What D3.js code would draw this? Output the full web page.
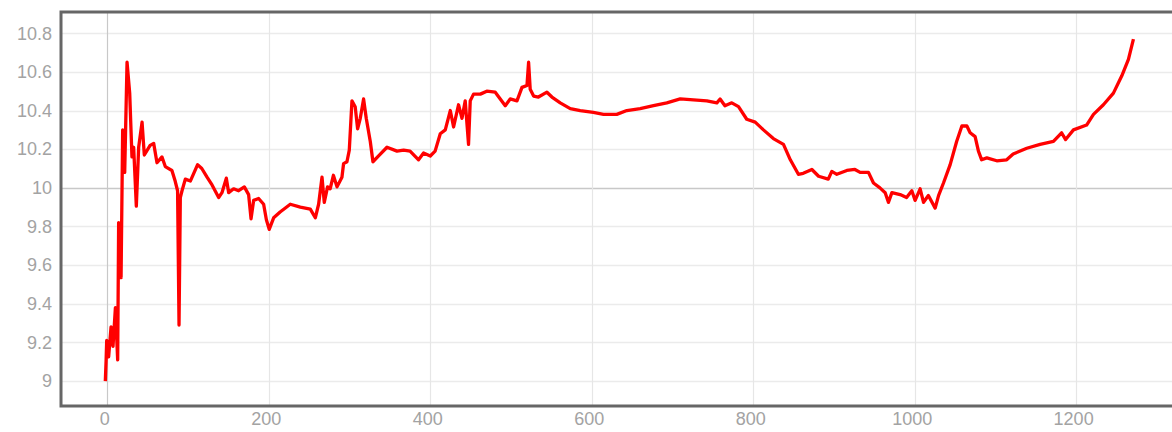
<!DOCTYPE html>
<html>
<head>
<meta charset="utf-8">
<script src="https://cdn.jsdelivr.net/npm/d3@7"></script>
<style>
	body{margin:0;background:#fff;overflow:hidden;}
	svg{display:block;}
	.tick text{font-family:"Liberation Sans",Arial,sans-serif;font-size:18px;fill:#a3a3a3;}
</style>
</head>
<body>
<div id="chart"></div>
<script>
//データ
const xValues = [
	-2.5, -1.5, -0.8, 1.6, 4.6, 7, 10, 12.8, 14, 17, 19, 21.5, 24.4, 27.7, 30.5, 32.6, 35.9, 38.8, 43, 45.8,
	53, 57.4, 61.5, 67.7, 71.8, 80, 84, 87, 88.8, 90.4, 92.5, 96.6, 102.8, 111.8, 117, 123.5, 129.7, 137.9, 142, 147.4,
	150.3, 156.4, 162.6, 169.7, 175, 178, 181.2, 187.4, 193.6, 197, 200.5, 206, 214, 226.6, 239, 251.4, 257.6, 261.7, 265.9, 268.7,
	272.8, 276, 280, 284.5, 290.6, 292.6, 296.8, 299.7, 303, 307, 310, 313.3, 317.4, 320.7, 325.7, 329, 336, 346.4, 358.8, 367,
	375, 385.5, 391.7, 400, 406, 412.4, 418.6, 424.8, 428.9, 435, 439.3, 443.3, 447.4, 449.5, 453.6, 462, 470, 480.5, 486.7, 492.9,
	499, 507.4, 513.6, 519.8, 521.8, 523.8, 528, 534, 544.5, 550.7, 561, 573.4, 585.8, 602, 614.6, 631, 643.5, 660, 676.5, 693,
	709.6, 726, 742.6, 755, 759, 765, 773.5, 781.8, 792, 802.5, 812.7, 825, 837.5, 846, 856, 862, 872.7, 881, 893, 897.4,
	903.6, 916, 926, 932.5, 942.8, 949, 957, 963.5, 967.5, 971.8, 982, 990, 996.5, 1000.6, 1006.8, 1011, 1017, 1025.4, 1029.6, 1035.7,
	1044, 1052, 1058.5, 1064.7, 1068.7, 1074.9, 1079, 1083, 1089.4, 1101.7, 1114, 1122, 1138.9, 1155.4, 1171.9, 1182, 1187, 1196.7, 1213, 1221.5,
	1233.8, 1246.2, 1256.6, 1264.8, 1271
];
const yValues = [
	9.00, 9.11, 9.21, 9.125, 9.28, 9.18, 9.38, 9.11, 9.82, 9.535, 10.30, 10.08, 10.65, 10.49, 10.16, 10.21, 9.905, 10.21, 10.34, 10.17,
	10.22, 10.23, 10.13, 10.16, 10.11, 10.09, 10.035, 9.985, 9.29, 9.95, 9.985, 10.045, 10.035, 10.12, 10.10, 10.055, 10.015, 9.95, 9.975, 10.05,
	9.975, 9.995, 9.985, 10.005, 9.965, 9.84, 9.935, 9.945, 9.915, 9.835, 9.785, 9.845, 9.875, 9.915, 9.90, 9.89, 9.845, 9.915, 10.055, 9.925,
	10.005, 9.995, 10.065, 10.005, 10.055, 10.125, 10.135, 10.195, 10.45, 10.42, 10.305, 10.36, 10.46, 10.36, 10.24, 10.135, 10.165, 10.21, 10.19, 10.195,
	10.19, 10.145, 10.18, 10.165, 10.19, 10.28, 10.30, 10.40, 10.315, 10.43, 10.36, 10.45, 10.225, 10.45, 10.485, 10.485, 10.50, 10.495, 10.46, 10.425,
	10.46, 10.45, 10.52, 10.53, 10.65, 10.51, 10.475, 10.47, 10.495, 10.47, 10.44, 10.41, 10.40, 10.39, 10.38, 10.38, 10.40, 10.41, 10.425, 10.44,
	10.46, 10.455, 10.45, 10.44, 10.46, 10.425, 10.44, 10.42, 10.355, 10.34, 10.30, 10.255, 10.225, 10.145, 10.07, 10.075, 10.095, 10.06, 10.045, 10.085,
	10.07, 10.09, 10.095, 10.08, 10.08, 10.025, 10.0, 9.975, 9.925, 9.975, 9.965, 9.95, 9.985, 9.935, 9.995, 9.925, 9.96, 9.895, 9.96, 10.025,
	10.12, 10.24, 10.32, 10.32, 10.285, 10.265, 10.19, 10.145, 10.155, 10.14, 10.145, 10.175, 10.205, 10.225, 10.24, 10.285, 10.25, 10.30, 10.325, 10.38,
	10.43, 10.49, 10.58, 10.665, 10.77
];
const xTicks = [0, 200, 400, 600, 800, 1000, 1200];
const yTicks = [9, 9.2, 9.4, 9.6, 9.8, 10, 10.2, 10.4, 10.6, 10.8];

//描画
function drawChart(){
	let width = 1172;
	let height = 432;
	let left = 61, top = 12, bottom = 406, right = 1240;

	let x = d3.scaleLinear().domain([-57.4, 1403]).range([left, right]);
	let y = d3.scaleLinear().domain([8.871, 10.91]).range([bottom, top]);

	let svg = d3.select("#chart").append("svg")
		.attr("width", width)
		.attr("height", height);

	svg.append("defs").append("clipPath")
		.attr("id", "plot")
		.append("rect")
		.attr("x", left).attr("y", top)
		.attr("width", right - left).attr("height", bottom - top);

	//グリッド
	let grid = svg.append("g");
	grid.selectAll(".hgrid")
		.data(yTicks)
		.enter()
		.append("line")
		.attr("x1", left).attr("x2", width)
		.attr("y1", d => Math.round(y(d)) + 0.5).attr("y2", d => Math.round(y(d)) + 0.5)
		.attr("stroke", d => d == 10 ? "#c8c8c8" : "#ebebeb")
		.attr("stroke-width", 1.5);
	grid.selectAll(".vgrid")
		.data(xTicks)
		.enter()
		.append("line")
		.attr("x1", d => Math.round(x(d)) + 0.5).attr("x2", d => Math.round(x(d)) + 0.5)
		.attr("y1", top).attr("y2", bottom)
		.attr("stroke", d => d == 0 ? "#c8c8c8" : "#e6e6e6")
		.attr("stroke-width", 1.2);

	//折れ線
	let points = xValues.map((v, i) => [v, yValues[i]]);
	let line = d3.line()
		.x(d => x(d[0]))
		.y(d => y(d[1]));
	svg.append("path")
		.datum(points)
		.attr("clip-path", "url(#plot)")
		.attr("fill", "none")
		.attr("stroke", "#ff0000")
		.attr("stroke-width", 3.3)
		.attr("stroke-linejoin", "round")
		.attr("d", line);

	//枠
	svg.append("path")
		.attr("d", "M" + width + "," + top + "H" + left + "V" + bottom + "H" + width)
		.attr("fill", "none")
		.attr("stroke", "#666")
		.attr("stroke-width", 3);

	//軸ラベル
	let yAxis = d3.axisLeft(y)
		.tickValues(yTicks)
		.tickSize(0)
		.tickPadding(9)
		.tickFormat(d => String(+d.toFixed(1)));
	svg.append("g")
		.attr("transform", "translate(" + left + ",0)")
		.call(yAxis)
		.call(g => g.select(".domain").remove());

	let xAxis = d3.axisBottom(x)
		.tickValues(xTicks)
		.tickSize(0)
		.tickPadding(6)
		.tickFormat(d3.format("d"));
	svg.append("g")
		.attr("transform", "translate(-3," + bottom + ")")
		.call(xAxis)
		.call(g => g.select(".domain").remove());
}

drawChart();
</script>
</body>
</html>
